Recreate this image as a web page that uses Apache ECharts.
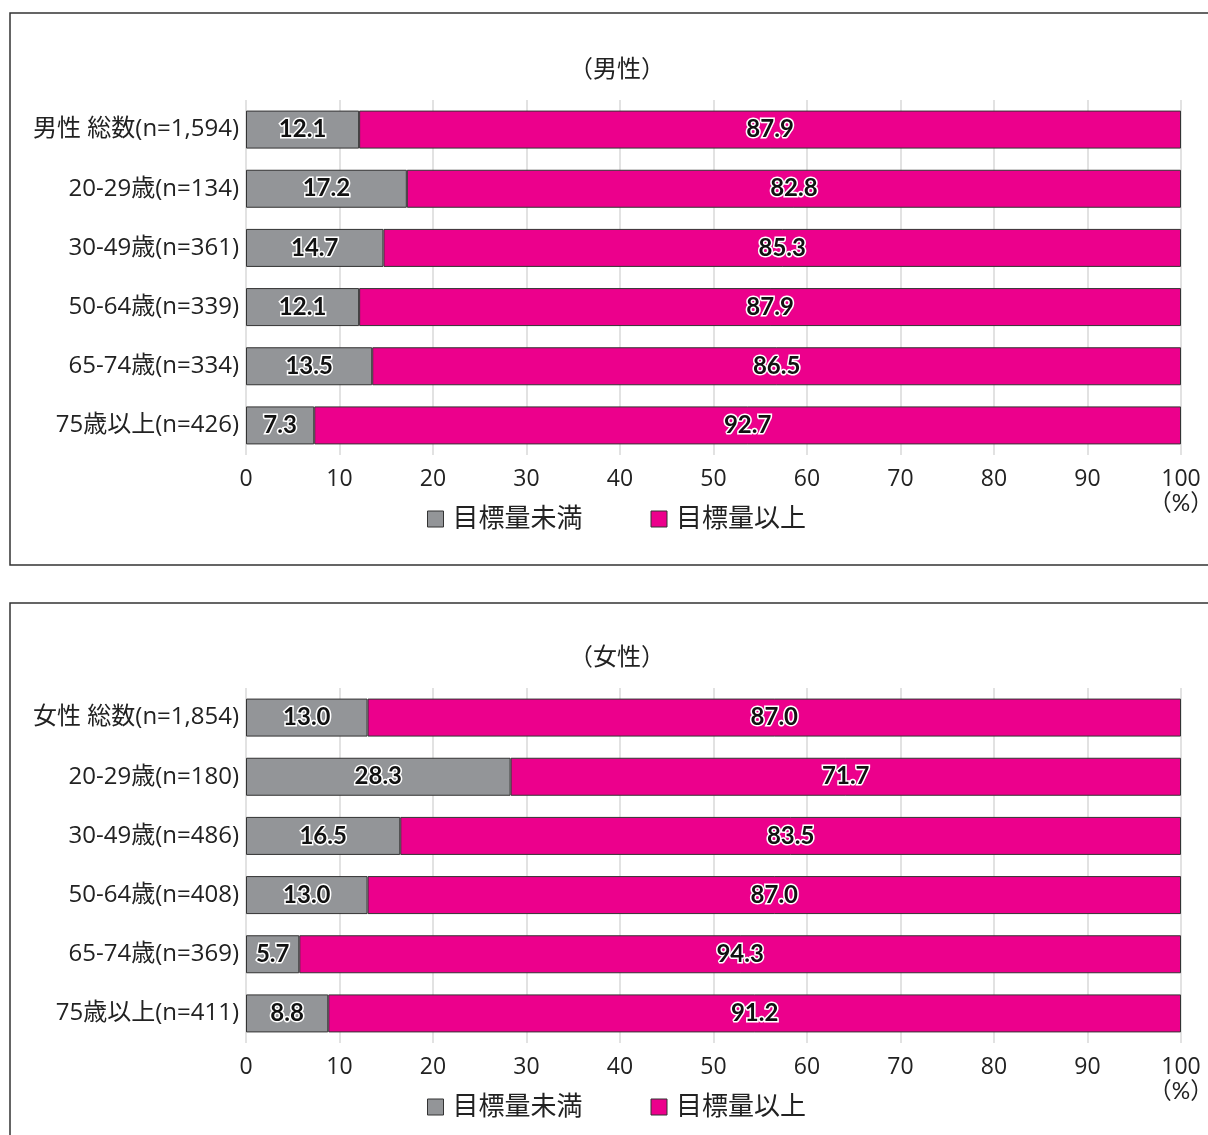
<!DOCTYPE html>
<html><head><meta charset="utf-8">
<script src="https://cdn.jsdelivr.net/npm/echarts@6/dist/echarts.min.js"></script>
<style>html,body{margin:0;padding:0;background:#fff}#c{width:1208px;height:1135px}</style>
</head><body><div id="c"></div>
<script>
const maleCategories = ['男性 総数(n=1,594)','20-29歳(n=134)','30-49歳(n=361)','50-64歳(n=339)','65-74歳(n=334)','75歳以上(n=426)'];
const maleBelow = [12.1,17.2,14.7,12.1,13.5,7.3];
const maleAbove = [87.9,82.8,85.3,87.9,86.5,92.7];
const femaleCategories = ['女性 総数(n=1,854)','20-29歳(n=180)','30-49歳(n=486)','50-64歳(n=408)','65-74歳(n=369)','75歳以上(n=411)'];
const femaleBelow = [13.0,28.3,16.5,13.0,5.7,8.8];
const femaleAbove = [87.0,71.7,83.5,87.0,94.3,91.2];
const seriesNames = ['目標量未満','目標量以上'];
const titles = ['（男性）','（女性）'];

const FONT = "Lato, 'Noto Sans CJK JP', sans-serif";
const FONT2 = "'Open Sans', 'Noto Sans CJK JP', sans-serif";
const GRAY = '#939598', PINK = '#EC008C';
const chart = echarts.init(document.getElementById('c'));
const OFF = 588;

function grid(i){ return {left:246, right:27, top:100 + i*OFF, height:355, containLabel:false, outerBoundsMode:'none'}; }
function xAxis(i){
  return {type:'value', gridIndex:i, min:0, max:100, interval:10,
    axisLine:{show:false}, axisTick:{show:false},
    splitLine:{lineStyle:{color:'#d9d9d9', width:1.5}},
    axisLabel:{margin:12, color:'#222', fontSize:23, fontFamily:FONT2, lineHeight:24,
      formatter:v => v===100 ? '100\n{p|（%）}' : String(v),
      rich:{p:{fontSize:23, fontFamily:FONT, color:'#222', lineHeight:26}}}};
}
function yAxis(i, cats){
  return {type:'category', gridIndex:i, data:cats, inverse:true,
    axisLine:{show:false}, axisTick:{show:false},
    axisLabel:{margin:7, color:'#222', fontSize:24, fontFamily:FONT2}};
}
const lbl = {show:true, position:'inside', color:'#111', fontSize:24, fontFamily:FONT, fontWeight:'bold',
  textBorderColor:'#fff', textBorderWidth:3, formatter:p => p.value.toFixed(1)};
function bar(name, data, color, i){
  return {name, type:'bar', stack:'s'+i, xAxisIndex:i, yAxisIndex:i, data, barWidth:38,
    itemStyle:{color, borderColor:'#333', borderWidth:1}, label:lbl};
}
function legend(i){
  return {top:501 + i*OFF, left:422, itemGap:68, itemWidth:16, itemHeight:16,
    textStyle:{fontSize:26, fontFamily:FONT, color:'#222', padding:[0,0,0,4]},
    data:seriesNames.map(n=>({name:n, icon:'rect', itemStyle:{borderColor:'#333', borderWidth:1}}))};
}

chart.setOption({
  animation:false,
  title: titles.map((t,i)=>({text:t, left:612, textAlign:'center', top:51 + i*OFF,
    textStyle:{fontSize:24, fontWeight:'normal', color:'#222', fontFamily:"'Noto Sans CJK JP', sans-serif"}})),
  legend:[legend(0), legend(1)],
  grid:[grid(0), grid(1)],
  xAxis:[xAxis(0), xAxis(1)],
  yAxis:[yAxis(0, maleCategories), yAxis(1, femaleCategories)],
  series:[
    bar(seriesNames[0], maleBelow, GRAY, 0),
    bar(seriesNames[1], maleAbove, PINK, 0),
    bar(seriesNames[0], femaleBelow, GRAY, 1),
    bar(seriesNames[1], femaleAbove, PINK, 1)
  ],
  graphic:[
    {type:'rect', shape:{x:10, y:13, width:1220, height:552}, style:{fill:'none', stroke:'#333', lineWidth:1.5}, z:-1},
    {type:'rect', shape:{x:10, y:603, width:1220, height:560}, style:{fill:'none', stroke:'#333', lineWidth:1.5}, z:-1}
  ]
});
</script></body></html>
